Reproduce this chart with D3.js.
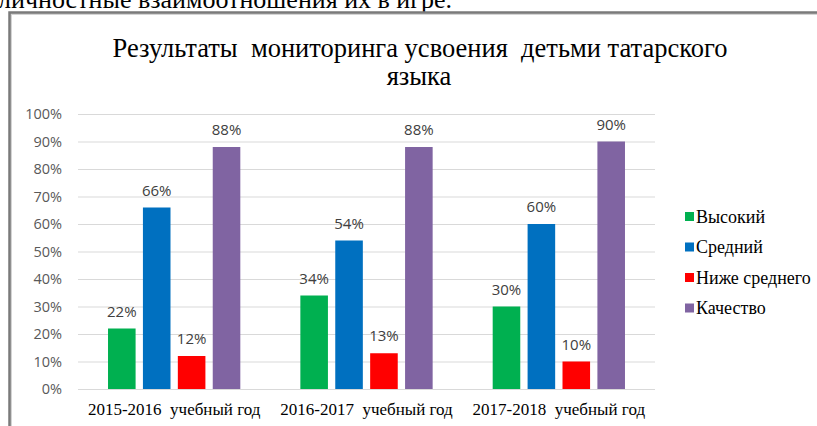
<!DOCTYPE html>
<html lang="ru">

<head>
    <meta charset="UTF-8">
    <title>Результаты мониторинга</title>
    <script src="https://d3js.org/d3.v7.min.js"></script>
    <style>
        body {
            margin: 0;
            background: #fff;
        }

        svg {
            display: block;
        }

        text {
            white-space: pre;
        }
    </style>
</head>

<body>
    <svg id="chart"></svg>

    <script>
        // data
        const categories = ["2015-2016  учебный год", "2016-2017  учебный год", "2017-2018  учебный год"];
        const seriesNames = ["Высокий", "Средний", "Ниже среднего", "Качество"];
        const vysokiy = [22, 34, 30];
        const sredniy = [66, 54, 60];
        const nizheSrednego = [12, 13, 10];
        const kachestvo = [88, 88, 90];
        const yTicks = [0, 10, 20, 30, 40, 50, 60, 70, 80, 90, 100];

        const colors = ["#00B050", "#0070C0", "#FF0000", "#8064A2"];
        const values = [vysokiy, sredniy, nizheSrednego, kachestvo];

        const serif = "Liberation Serif";
        const sans = "Open Sans";

        const W = 817, H = 426;
        const margin = { top: 114, right: 162, bottom: 37, left: 78 },
            width = W - margin.left - margin.right,
            height = H - margin.top - margin.bottom;

        const root = d3.select("#chart")
            .attr("width", W)
            .attr("height", H);

        root.append("rect")
            .attr("width", W)
            .attr("height", H)
            .attr("fill", "#fff");

        // tail of the document line above the chart
        root.append("text")
            .attr("x", 452)
            .attr("y", 8)
            .attr("text-anchor", "end")
            .attr("font-family", serif)
            .attr("font-size", 26)
            .attr("fill", "#000")
            .text("личностные взаимоотношения их в игре.");

        // chart frame (only top and left edges visible)
        root.append("path")
            .attr("d", `M11,${H} V14 H${W}`)
            .attr("fill", "none")
            .attr("stroke", "#d4d4d4")
            .attr("stroke-width", 2);
        root.append("path")
            .attr("d", `M9.5,${H} V12.5 H${W}`)
            .attr("fill", "none")
            .attr("stroke", "#7a7a7a")
            .attr("stroke-width", 2.5);

        // title
        const title = root.append("text")
            .attr("text-anchor", "middle")
            .attr("font-family", serif)
            .attr("font-size", 26.5)
            .attr("fill", "#000");
        title.append("tspan")
            .attr("x", 420)
            .attr("y", 57)
            .text("Результаты  мониторинга усвоения  детьми татарского");
        title.append("tspan")
            .attr("x", 419)
            .attr("y", 85)
            .text("языка");

        const svg = root.append("g")
            .attr("transform", `translate(${margin.left},${margin.top})`);

        const x0 = d3.scaleBand()
            .domain(categories)
            .range([0, width])
            .padding(0);

        const x1 = d3.scaleBand()
            .domain(seriesNames)
            .range([0, x0.bandwidth()])
            .paddingInner(0.21)
            .paddingOuter(0.86);

        const y = d3.scaleLinear()
            .domain([0, 100])
            .range([height, 0]);

        // gridlines
        svg.append("g")
            .selectAll("line")
            .data(yTicks)
            .join("line")
            .attr("x1", 0)
            .attr("x2", width)
            .attr("y1", d => y(d) + 0.5)
            .attr("y2", d => y(d) + 0.5)
            .attr("stroke", "#d9d9d9")
            .attr("stroke-width", 1);

        // y axis labels
        const yAxis = svg.append("g")
            .call(d3.axisLeft(y).tickValues(yTicks).tickFormat(d => d + "%").tickSize(0).tickPadding(16));
        yAxis.select(".domain").remove();
        yAxis.selectAll("text")
            .attr("font-family", sans)
            .attr("font-size", 14.5)
            .attr("fill", "#595959");

        // x axis labels
        const xAxis = svg.append("g")
            .attr("transform", `translate(0,${height})`)
            .call(d3.axisBottom(x0).tickSize(0).tickPadding(14));
        xAxis.select(".domain").remove();
        xAxis.selectAll("text")
            .attr("font-family", serif)
            .attr("font-size", 17)
            .attr("fill", "#000");

        // bars
        const groups = svg.append("g")
            .selectAll("g")
            .data(seriesNames)
            .join("g")
            .attr("fill", (d, i) => colors[i]);

        groups.selectAll("rect")
            .data((s, i) => categories.map((c, j) => ({ s: s, c: c, v: values[i][j] })))
            .join("rect")
            .attr("x", d => x0(d.c) + x1(d.s))
            .attr("y", d => y(d.v))
            .attr("width", x1.bandwidth())
            .attr("height", d => height - y(d.v));

        groups.selectAll("text")
            .data((s, i) => categories.map((c, j) => ({ s: s, c: c, v: values[i][j] })))
            .join("text")
            .attr("x", d => x0(d.c) + x1(d.s) + x1.bandwidth() / 2)
            .attr("y", d => y(d.v) - 12)
            .attr("text-anchor", "middle")
            .attr("font-family", sans)
            .attr("font-size", 15)
            .attr("fill", "#404040")
            .text(d => d.v + "%");

        // legend
        const legend = root.append("g")
            .attr("transform", "translate(685,217)");
        const item = legend.selectAll("g")
            .data(seriesNames)
            .join("g")
            .attr("transform", (d, i) => `translate(0,${i * 30.5})`);
        item.append("rect")
            .attr("x", 0)
            .attr("y", -5)
            .attr("width", 9)
            .attr("height", 9)
            .attr("fill", (d, i) => colors[i]);
        item.append("text")
            .attr("x", 11)
            .attr("y", 5.5)
            .attr("font-family", serif)
            .attr("font-size", 18)
            .attr("fill", "#000")
            .text(d => d);
    </script>
</body>

</html>
